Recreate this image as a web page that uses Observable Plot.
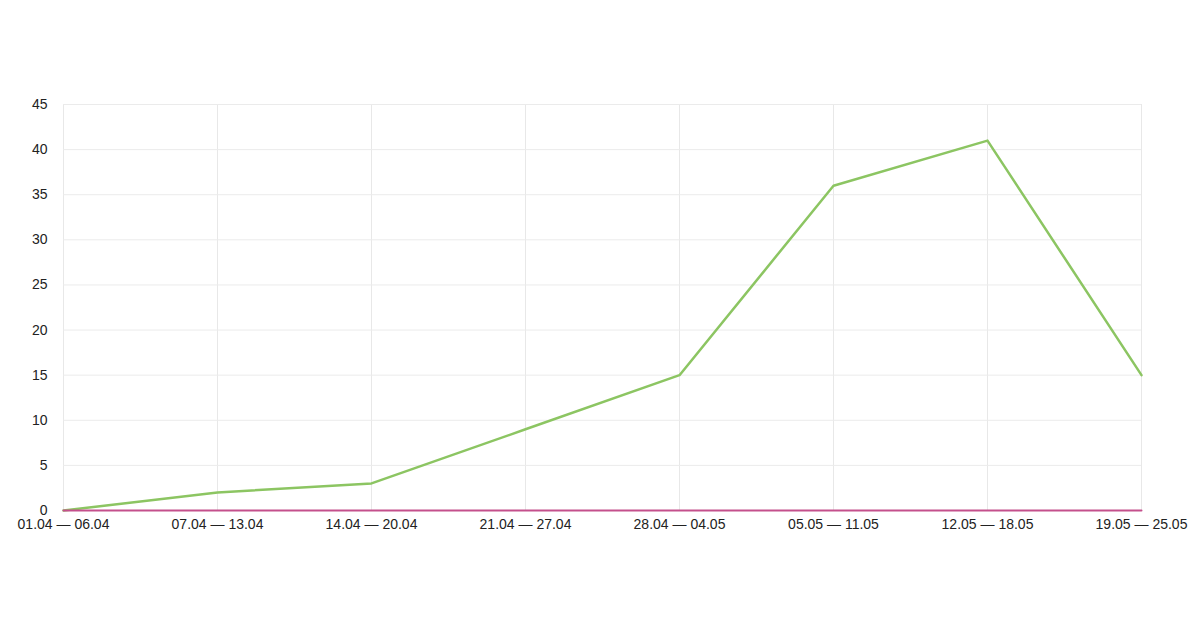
<!DOCTYPE html>
<html>
<head>
<meta charset="utf-8">
<script src="https://cdn.jsdelivr.net/npm/d3@7"></script>
<script src="https://cdn.jsdelivr.net/npm/@observablehq/plot@0.6"></script>
<style>
html,body{margin:0;padding:0;background:#fff;}
#chart{width:1200px;height:630px;}
</style>
</head>
<body>
<div id="chart"></div>
<script>
const weeks = ["01.04 — 06.04","07.04 — 13.04","14.04 — 20.04","21.04 — 27.04","28.04 — 04.05","05.05 — 11.05","12.05 — 18.05","19.05 — 25.05"];
const seriesA = [0, 2, 3, 9, 15, 36, 41, 15];
const seriesB = [0, 0, 0, 0, 0, 0, 0, 0];
const yTicks = [0, 5, 10, 15, 20, 25, 30, 35, 40, 45];

const dataA = weeks.map((w, i) => ({week: w, value: seriesA[i]}));
const dataB = weeks.map((w, i) => ({week: w, value: seriesB[i]}));

const chart = Plot.plot({
  width: 1200,
  height: 630,
  marginLeft: 63,
  marginRight: 59,
  marginTop: 104,
  marginBottom: 120,
  style: {fontFamily: "'Liberation Sans', Arial, sans-serif", fontSize: "14px", color: "#222", background: "#fff"},
  x: {type: "point", domain: weeks, padding: 0, label: null},
  y: {domain: [0, 45], label: null},
  marks: [
    Plot.ruleX(weeks, {x: d => d, stroke: "#e8e8e8", strokeWidth: 1}),
    Plot.ruleY(yTicks, {y: d => d, stroke: "#ebebeb", strokeWidth: 1}),
    Plot.axisX({ticks: weeks, tickSize: 0, tickPadding: 9, fontSize: 14, fill: "#222"}),
    Plot.axisY({ticks: yTicks, tickSize: 0, tickPadding: 16, fontSize: 14, fill: "#222"}),
    Plot.line(dataA, {x: "week", y: "value", stroke: "#8cc562", strokeWidth: 2.5}),
    Plot.line(dataB, {x: "week", y: "value", stroke: "#c4508c", strokeWidth: 2})
  ]
});
document.getElementById("chart").appendChild(chart);
</script>
</body>
</html>
